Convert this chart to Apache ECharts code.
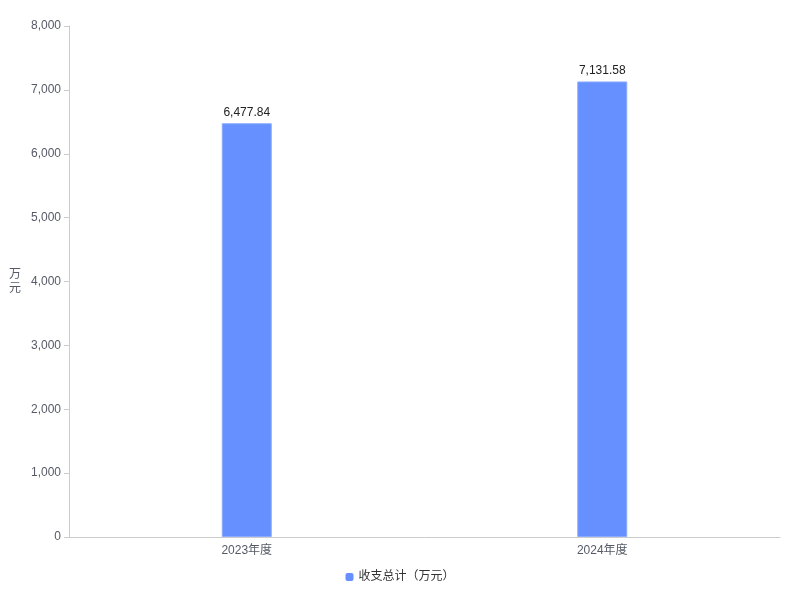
<!DOCTYPE html>
<html>
<head>
<meta charset="utf-8">
<script src="https://cdn.jsdelivr.net/npm/echarts@6/dist/echarts.min.js"></script>
<style>
  html, body { margin: 0; padding: 0; background: #fff; }
  #main { width: 800px; height: 600px; }
</style>
</head>
<body>
<div id="main"></div>
<script>
// 数据
const years = ['2023年度', '2024年度']
const totals = [6477.84, 7131.58]
const seriesName = '收支总计（万元）'

const chart = echarts.init(document.getElementById('main'))

const fmt = v => v.toLocaleString('en-US', { minimumFractionDigits: 2, maximumFractionDigits: 2 })

chart.setOption({
  textStyle: { fontFamily: 'Arial, "Liberation Sans", "Noto Sans CJK SC", sans-serif' },
  grid: { top: 26, left: 69, right: 20, bottom: 63 },
  legend: {
    bottom: 12,
    icon: 'roundRect',
    itemWidth: 8,
    itemHeight: 8,
    itemGap: 10,
    itemStyle: { borderWidth: 0 },
    textStyle: { color: '#333', fontSize: 12 },
    data: [seriesName]
  },
  xAxis: {
    type: 'category',
    data: years,
    axisLine: { lineStyle: { color: '#ccc' } },
    axisTick: { alignWithLabel: true, lineStyle: { color: '#ccc' } },
    axisLabel: { color: '#555a66', fontSize: 12 }
  },
  yAxis: {
    type: 'value',
    min: 0,
    max: 8000,
    interval: 1000,
    name: '万\n元',
    nameLocation: 'middle',
    nameGap: 48,
    nameRotate: 0,
    nameTextStyle: { color: '#555a66', fontSize: 12, lineHeight: 14, padding: [0, 0, 6, 0] },
    axisLine: { show: true, lineStyle: { color: '#ccc' } },
    axisTick: { show: true, lineStyle: { color: '#ccc' } },
    splitLine: { show: false },
    axisLabel: { color: '#555a66', fontSize: 12 }
  },
  series: [
    {
      name: seriesName,
      type: 'bar',
      barWidth: 50,
      data: totals,
      itemStyle: { color: '#6690FF', borderColor: '#8aabff', borderWidth: 1 },
      label: {
        show: true,
        position: 'top',
        color: '#222',
        fontSize: 12,
        formatter: p => fmt(p.value)
      }
    }
  ]
})
</script>
</body>
</html>
